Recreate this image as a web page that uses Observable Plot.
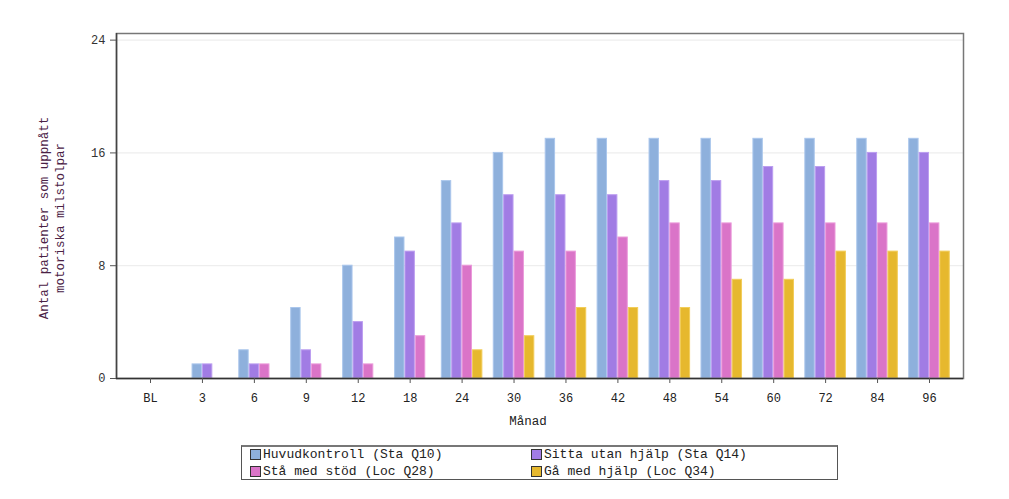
<!DOCTYPE html>
<html>
<head>
<meta charset="utf-8">
<script src="https://cdn.jsdelivr.net/npm/d3@7"></script>
<script src="https://cdn.jsdelivr.net/npm/@observablehq/plot@0.6"></script>
<style>
  body { margin: 0; background: #fff; }
  #wrap { position: relative; width: 1009px; height: 499px; font-family: "Liberation Mono", "DejaVu Sans Mono", monospace; }
  #legend {
    position: absolute; left: 241px; top: 445px; width: 597px; height: 35px;
    border: 1px solid #555; border-top: 2px solid #777; box-sizing: border-box;
    display: grid; grid-template-columns: 281px 1fr; grid-template-rows: 15px 18px;
    padding: 0 0 0 8px; font-size: 13px; color: #222;
  }
  #legend .item { display: flex; align-items: center; white-space: pre; }
  #legend .sw { width: 9px; height: 9px; border: 1px solid #333; margin-right: 2px; }
</style>
</head>
<body>
<div id="wrap"><div id="chart"></div><div id="legend"></div></div>
<script>
const months = ["BL", "3", "6", "9", "12", "18", "24", "30", "36", "42", "48", "54", "60", "72", "84", "96"];
const seriesNames = ["Huvudkontroll (Sta Q10)", "Sitta utan hjälp (Sta Q14)", "Stå med stöd (Loc Q28)", "Gå med hjälp (Loc Q34)"];
const huvudkontroll = [0, 1, 2, 5, 8, 10, 14, 16, 17, 17, 17, 17, 17, 17, 17, 17];
const sittaUtanHjalp = [0, 1, 1, 2, 4, 9, 11, 13, 13, 13, 14, 14, 15, 15, 16, 16];
const staMedStod = [0, 0, 1, 1, 1, 3, 8, 9, 9, 10, 11, 11, 11, 11, 11, 11];
const gaMedHjalp = [0, 0, 0, 0, 0, 0, 2, 3, 5, 5, 5, 7, 7, 9, 9, 9];
const yTicks = [0, 8, 16, 24];
const colors = ["#8eb0dc", "#a17ce4", "#da74c8", "#e6b82e"];
const strokes = ["#aac6ec", "#bc9ef0", "#eb9ada", "#f2cd5a"];
const yTitle = "Antal patienter som uppnått\nmotoriska milstolpar";
const xTitle = "Månad";

const seriesValues = [huvudkontroll, sittaUtanHjalp, staMedStod, gaMedHjalp];
const step = 847 / (16 - 0.8 + 2 * 0.555);
const bw = step * 0.2;

// Non-zero bars in each month are centred on the month tick (zero values are skipped).
const rows = [];
months.forEach((m, j) => {
  const present = seriesValues.map((v, i) => ({i, value: v[j]})).filter(d => d.value > 0);
  present.forEach((d, k) => rows.push({month: m, series: d.i, value: d.value, slot: k - (present.length - 1) / 2}));
});
const groups = d3.groups(rows, d => d.series, d => d.slot);
const barMarks = groups.flatMap(([s, bySlot]) => bySlot.map(([slot, data]) =>
  Plot.barY(data, {
    x: "month", y: "value", fill: colors[s], stroke: strokes[s], strokeWidth: 1,
    dx: slot * bw, insetLeft: 0.5, insetRight: 0.5
  })
));

const chart = Plot.plot({
  width: 1009, height: 440,
  marginLeft: 116, marginRight: 46, marginTop: 33, marginBottom: 62,
  style: {fontFamily: "'Liberation Mono', 'DejaVu Sans Mono', monospace", fontSize: "12px", color: "#333", background: "#fff"},
  x: {type: "band", domain: months, paddingInner: 0.8, paddingOuter: 0.555, round: false, label: null},
  y: {domain: [0, 24.47], label: null},
  marks: [
    Plot.ruleY(yTicks.filter(t => t > 0), {stroke: "#eee", strokeWidth: 1.2}),
    ...barMarks,
    Plot.frame({stroke: "#777", strokeWidth: 1.5}),
    Plot.ruleY([0], {stroke: "#333", strokeWidth: 1.5}),
    Plot.ruleX([0], {x: () => months[0], stroke: "#444", strokeWidth: 1.5, dx: -step * 0.6546, y1: 0, y2: 24.47}),
    Plot.axisY({ticks: yTicks, tickSize: 6, tickPadding: 5, stroke: "#555", fill: "#333", label: null}),
    Plot.axisX({tickSize: 5, tickPadding: 10, stroke: "#555", fill: "#222", label: null}),
    Plot.text([yTitle], {text: d => d, frameAnchor: "left", textAnchor: "middle", rotate: -90, dx: -66, dy: 12, fontSize: 12.5, lineHeight: 1.3, fill: "#4a2145"}),
    Plot.text([xTitle], {text: d => d, frameAnchor: "bottom", dy: 46, dx: -12, fontSize: 12.5, fill: "#222"})
  ]
});
document.getElementById("chart").appendChild(chart);

const legend = document.getElementById("legend");
seriesNames.forEach((name, i) => {
  const item = document.createElement("div");
  item.className = "item";
  const sw = document.createElement("span");
  sw.className = "sw";
  sw.style.background = colors[i];
  item.appendChild(sw);
  item.appendChild(document.createTextNode(name));
  legend.appendChild(item);
});
</script>
</body>
</html>
